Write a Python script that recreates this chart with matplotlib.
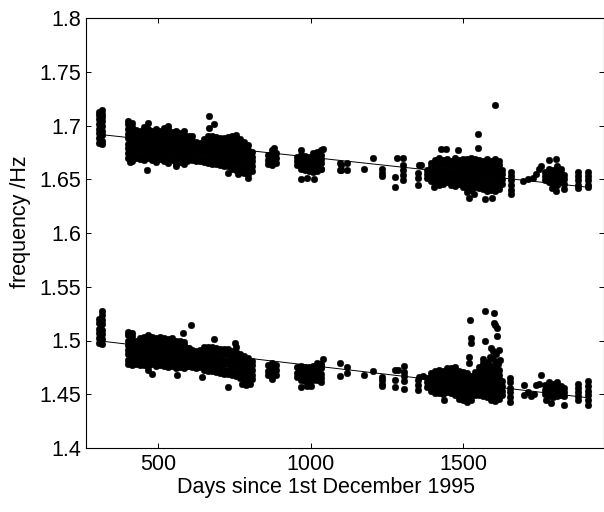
import matplotlib
matplotlib.use("Agg")
import matplotlib.pyplot as plt
from matplotlib.ticker import FixedLocator, FixedFormatter

# ---------------- data ----------------
# Upper frequency band: (day, [frequencies measured around that day])
upper_columns = [
    (305, [1.684, 1.688, 1.693, 1.697, 1.701, 1.706, 1.710, 1.713]),
    (318, [1.683, 1.686, 1.691, 1.695, 1.700, 1.704, 1.708, 1.711, 1.714]),
    (403, [1.670, 1.674, 1.679, 1.683, 1.688, 1.692, 1.697, 1.701, 1.704]),
    (416, [1.667, 1.672, 1.676, 1.681, 1.685, 1.690, 1.694, 1.699, 1.702]),
    (429, [1.670, 1.674, 1.678, 1.683, 1.687, 1.692, 1.696]),
    (442, [1.669, 1.673, 1.678, 1.682, 1.687, 1.691, 1.695]),
    (455, [1.668, 1.672, 1.677, 1.681, 1.686, 1.690, 1.695, 1.699]),
    (468, [1.670, 1.675, 1.679, 1.684, 1.688, 1.693, 1.697, 1.702]),
    (481, [1.668, 1.673, 1.677, 1.682, 1.686, 1.691, 1.695]),
    (494, [1.666, 1.671, 1.675, 1.680, 1.684, 1.689, 1.693, 1.697]),
    (507, [1.669, 1.673, 1.678, 1.682, 1.687, 1.691, 1.695]),
    (520, [1.667, 1.671, 1.676, 1.680, 1.685, 1.689, 1.694, 1.698]),
    (533, [1.665, 1.670, 1.674, 1.679, 1.683, 1.688, 1.692, 1.697, 1.700]),
    (546, [1.668, 1.672, 1.677, 1.681, 1.686, 1.690, 1.694]),
    (559, [1.664, 1.669, 1.673, 1.678, 1.682, 1.687, 1.691, 1.695]),
    (572, [1.666, 1.671, 1.675, 1.680, 1.684, 1.689, 1.693]),
    (585, [1.664, 1.668, 1.673, 1.677, 1.682, 1.686, 1.691, 1.695]),
    (596, [1.667, 1.671, 1.676, 1.680, 1.685, 1.689]),
    (600, [1.669, 1.673, 1.678, 1.682, 1.686, 1.690]),
    (613, [1.668, 1.672, 1.677, 1.681, 1.686, 1.690]),
    (626, [1.667, 1.671, 1.676, 1.680, 1.685]),
    (639, [1.667, 1.672, 1.676, 1.680, 1.684]),
    (652, [1.666, 1.670, 1.675, 1.679, 1.683, 1.687]),
    (665, [1.665, 1.669, 1.674, 1.678, 1.683, 1.687, 1.690]),
    (678, [1.664, 1.668, 1.673, 1.677, 1.682, 1.686, 1.690]),
    (691, [1.664, 1.668, 1.672, 1.677, 1.681, 1.686, 1.689]),
    (704, [1.663, 1.667, 1.672, 1.676, 1.681, 1.685, 1.688]),
    (717, [1.662, 1.666, 1.671, 1.675, 1.680, 1.684, 1.688]),
    (730, [1.662, 1.666, 1.671, 1.675, 1.679, 1.684, 1.689]),
    (743, [1.660, 1.665, 1.669, 1.674, 1.678, 1.683, 1.687, 1.690]),
    (756, [1.659, 1.664, 1.668, 1.673, 1.677, 1.682, 1.686, 1.691]),
    (769, [1.657, 1.662, 1.666, 1.671, 1.675, 1.680, 1.684, 1.687]),
    (782, [1.656, 1.660, 1.665, 1.669, 1.674, 1.678, 1.682, 1.685]),
    (795, [1.655, 1.659, 1.664, 1.668, 1.673, 1.677, 1.682]),
    (808, [1.658, 1.662, 1.667, 1.671, 1.675]),
    (862, [1.664, 1.668, 1.673]),
    (875, [1.663, 1.667, 1.672, 1.677]),
    (888, [1.665, 1.670, 1.674]),
    (955, [1.663, 1.667, 1.671]),
    (968, [1.660, 1.664, 1.669, 1.673, 1.677]),
    (981, [1.659, 1.663, 1.668, 1.672]),
    (994, [1.658, 1.662, 1.666, 1.671]),
    (1007, [1.657, 1.661, 1.666, 1.670, 1.674]),
    (1020, [1.658, 1.662, 1.667, 1.671, 1.675]),
    (1033, [1.660, 1.665, 1.669, 1.673, 1.677]),
    (1382, [1.651, 1.655, 1.659]),
    (1395, [1.648, 1.652, 1.657, 1.661, 1.665]),
    (1408, [1.646, 1.650, 1.655, 1.659, 1.664, 1.668]),
    (1421, [1.645, 1.649, 1.654, 1.658, 1.663, 1.667, 1.670]),
    (1434, [1.646, 1.650, 1.655, 1.659, 1.664, 1.668]),
    (1447, [1.647, 1.651, 1.656, 1.660, 1.665, 1.669]),
    (1460, [1.645, 1.649, 1.654, 1.658, 1.663, 1.667]),
    (1473, [1.644, 1.648, 1.653, 1.657, 1.662, 1.666, 1.670]),
    (1486, [1.646, 1.650, 1.655, 1.659, 1.664, 1.668]),
    (1499, [1.643, 1.647, 1.652, 1.656, 1.661, 1.665, 1.669]),
    (1512, [1.638, 1.642, 1.647, 1.651, 1.656, 1.660, 1.665, 1.669]),
    (1525, [1.640, 1.644, 1.649, 1.653, 1.658, 1.662, 1.667, 1.670]),
    (1538, [1.643, 1.647, 1.652, 1.656, 1.661, 1.665, 1.669]),
    (1551, [1.642, 1.646, 1.651, 1.655, 1.660, 1.664, 1.668]),
    (1564, [1.641, 1.645, 1.650, 1.654, 1.659, 1.663, 1.667]),
    (1577, [1.639, 1.643, 1.648, 1.652, 1.657, 1.661, 1.666, 1.669]),
    (1590, [1.640, 1.644, 1.649, 1.653, 1.658, 1.662, 1.667]),
    (1603, [1.639, 1.643, 1.648, 1.652, 1.657, 1.661, 1.665, 1.669]),
    (1616, [1.641, 1.645, 1.650, 1.654, 1.659, 1.663, 1.667]),
    (1626, [1.646, 1.650, 1.655, 1.659]),
    (1657, [1.636, 1.640, 1.645, 1.649, 1.653, 1.657]),
    (1768, [1.649, 1.653, 1.657]),
    (1781, [1.647, 1.651, 1.656, 1.660]),
    (1794, [1.646, 1.650, 1.655, 1.659]),
    (1807, [1.645, 1.649, 1.654, 1.658, 1.662]),
    (1820, [1.647, 1.651, 1.656, 1.660]),
    (1829, [1.646, 1.650, 1.654]),
    (1877, [1.642, 1.645, 1.649, 1.653, 1.657]),
    (1908, [1.643, 1.645, 1.649, 1.653, 1.657]),
]
upper_scatter_days = [409, 464, 560, 667, 683, 667, 729, 762, 794, 880, 970, 988, 1012,
                      1040, 1035, 1100, 1100, 1098, 1098, 1118, 1118, 1176, 1206,
                      1235, 1235, 1235, 1278, 1278, 1284, 1304, 1304, 1304, 1304, 1304,
                      1356, 1362, 1351, 1351, 1351, 1405, 1427, 1444, 1484, 1549, 1549,
                      1604, 1520, 1534, 1572, 1594, 1695, 1711, 1728, 1739, 1750, 1755,
                      1781, 1803, 1790, 1803, 1829]
upper_scatter_freq = [1.666, 1.659, 1.662, 1.709, 1.701, 1.698, 1.656, 1.655, 1.651, 1.679,
                      1.650, 1.651, 1.650, 1.678, 1.660, 1.663, 1.659, 1.665, 1.659,
                      1.665, 1.659, 1.660, 1.670, 1.660, 1.656, 1.653, 1.652, 1.643,
                      1.670, 1.670, 1.663, 1.659, 1.654, 1.649, 1.663, 1.663, 1.656,
                      1.651, 1.645, 1.643, 1.678, 1.678, 1.677, 1.692, 1.679, 1.719,
                      1.633, 1.636, 1.632, 1.633, 1.648, 1.650, 1.651, 1.655, 1.660,
                      1.662, 1.668, 1.669, 1.642, 1.639, 1.641]

# Lower frequency band
lower_columns = [
    (305, [1.498, 1.502, 1.507, 1.511, 1.516, 1.520]),
    (318, [1.497, 1.501, 1.506, 1.510, 1.515, 1.519, 1.524, 1.527]),
    (403, [1.478, 1.482, 1.487, 1.491, 1.496, 1.500, 1.505, 1.508]),
    (416, [1.477, 1.481, 1.486, 1.490, 1.495, 1.499, 1.504, 1.507]),
    (429, [1.478, 1.482, 1.487, 1.491, 1.496, 1.500]),
    (442, [1.477, 1.481, 1.486, 1.490, 1.495, 1.499, 1.502]),
    (455, [1.477, 1.481, 1.486, 1.490, 1.495, 1.499, 1.503]),
    (468, [1.476, 1.480, 1.485, 1.489, 1.494, 1.498, 1.503, 1.505]),
    (481, [1.478, 1.482, 1.487, 1.491, 1.495, 1.500, 1.503]),
    (494, [1.476, 1.480, 1.485, 1.489, 1.494, 1.498, 1.502]),
    (507, [1.477, 1.481, 1.486, 1.490, 1.494, 1.499, 1.503]),
    (520, [1.476, 1.480, 1.485, 1.489, 1.493, 1.498, 1.502]),
    (533, [1.475, 1.479, 1.484, 1.488, 1.493, 1.497, 1.501]),
    (546, [1.476, 1.480, 1.485, 1.489, 1.494, 1.498, 1.502]),
    (559, [1.474, 1.478, 1.483, 1.487, 1.492, 1.496, 1.500]),
    (572, [1.475, 1.479, 1.484, 1.488, 1.493, 1.497, 1.500]),
    (585, [1.474, 1.478, 1.483, 1.487, 1.491, 1.496, 1.499]),
    (596, [1.476, 1.480, 1.485, 1.489, 1.493]),
    (600, [1.476, 1.480, 1.485, 1.489, 1.493]),
    (613, [1.475, 1.479, 1.484, 1.488, 1.491]),
    (626, [1.474, 1.478, 1.483, 1.487, 1.490]),
    (639, [1.475, 1.479, 1.484, 1.488, 1.491]),
    (652, [1.473, 1.477, 1.482, 1.486, 1.491, 1.494]),
    (665, [1.472, 1.476, 1.481, 1.485, 1.490, 1.494]),
    (678, [1.472, 1.476, 1.481, 1.485, 1.489, 1.494]),
    (691, [1.471, 1.475, 1.480, 1.484, 1.489, 1.493]),
    (704, [1.470, 1.474, 1.479, 1.483, 1.488, 1.492]),
    (717, [1.469, 1.473, 1.478, 1.482, 1.487, 1.492]),
    (730, [1.469, 1.473, 1.478, 1.482, 1.487, 1.492]),
    (743, [1.468, 1.472, 1.477, 1.481, 1.486, 1.490]),
    (756, [1.467, 1.471, 1.476, 1.480, 1.485, 1.489, 1.494]),
    (769, [1.465, 1.469, 1.474, 1.478, 1.483, 1.487]),
    (782, [1.464, 1.468, 1.473, 1.477, 1.482, 1.486]),
    (795, [1.462, 1.466, 1.471, 1.475, 1.480, 1.484]),
    (808, [1.464, 1.468, 1.473, 1.477, 1.481]),
    (862, [1.468, 1.472, 1.477]),
    (875, [1.466, 1.470, 1.475, 1.479]),
    (888, [1.468, 1.473, 1.477]),
    (955, [1.466, 1.470, 1.475]),
    (968, [1.463, 1.467, 1.472, 1.476]),
    (981, [1.462, 1.466, 1.471, 1.475]),
    (994, [1.462, 1.466, 1.471, 1.475]),
    (1007, [1.463, 1.467, 1.471, 1.476]),
    (1020, [1.463, 1.467, 1.472, 1.476, 1.479]),
    (1033, [1.465, 1.469, 1.474, 1.478]),
    (1382, [1.457, 1.461, 1.465]),
    (1395, [1.453, 1.457, 1.462, 1.466, 1.470]),
    (1408, [1.451, 1.455, 1.460, 1.464, 1.469, 1.472]),
    (1421, [1.451, 1.455, 1.460, 1.464, 1.469, 1.473]),
    (1434, [1.450, 1.454, 1.459, 1.463, 1.468, 1.472]),
    (1447, [1.452, 1.456, 1.461, 1.465, 1.470, 1.474]),
    (1460, [1.451, 1.455, 1.460, 1.464, 1.469, 1.474]),
    (1473, [1.449, 1.453, 1.458, 1.462, 1.467, 1.471, 1.475]),
    (1486, [1.446, 1.450, 1.455, 1.459, 1.464, 1.468, 1.472]),
    (1499, [1.445, 1.449, 1.454, 1.458, 1.463, 1.467, 1.471]),
    (1512, [1.443, 1.447, 1.452, 1.456, 1.461, 1.465, 1.470]),
    (1525, [1.445, 1.449, 1.454, 1.458, 1.463, 1.467]),
    (1538, [1.449, 1.453, 1.458, 1.462, 1.467, 1.471]),
    (1551, [1.449, 1.453, 1.458, 1.462, 1.467, 1.471, 1.475]),
    (1564, [1.448, 1.452, 1.457, 1.461, 1.466, 1.470, 1.474, 1.479]),
    (1577, [1.447, 1.451, 1.456, 1.460, 1.465, 1.469, 1.474]),
    (1590, [1.445, 1.449, 1.454, 1.458, 1.463, 1.467, 1.472, 1.476]),
    (1603, [1.444, 1.448, 1.453, 1.457, 1.462, 1.466, 1.471, 1.475]),
    (1616, [1.446, 1.450, 1.455, 1.459, 1.464, 1.468, 1.473]),
    (1626, [1.449, 1.453, 1.458, 1.462]),
    (1655, [1.443, 1.447, 1.452, 1.456, 1.461, 1.465]),
    (1768, [1.450, 1.454, 1.459]),
    (1781, [1.448, 1.452, 1.457, 1.461]),
    (1794, [1.447, 1.451, 1.456, 1.460]),
    (1807, [1.448, 1.452, 1.457, 1.461]),
    (1820, [1.449, 1.453, 1.458]),
    (1829, [1.448, 1.452, 1.456]),
    (1877, [1.445, 1.448, 1.452, 1.456, 1.460]),
    (1908, [1.440, 1.445, 1.449, 1.453, 1.458, 1.462]),
]
lower_scatter_days = [467, 480, 563, 581, 609, 683, 752, 729, 645, 776, 790, 800, 875,
                      968, 988, 1003, 1040, 1035, 1035, 1098, 1098, 1118, 1118, 1176,
                      1206, 1235, 1235, 1235, 1235, 1278, 1278, 1278, 1288, 1307, 1307,
                      1307, 1307, 1307, 1351, 1351, 1351, 1356, 1370, 1438,
                      1524, 1526, 1526, 1520, 1520, 1573, 1602, 1601, 1605, 1610, 1610,
                      1573, 1591, 1598, 1607, 1619, 1588, 1594, 1566, 1568, 1580, 1605,
                      1615, 1620, 1700, 1700, 1711, 1722, 1733, 1739, 1750, 1755, 1787,
                      1829, 1772]
lower_scatter_freq = [1.473, 1.469, 1.468, 1.507, 1.514, 1.501, 1.498, 1.457, 1.466,
                      1.460, 1.459, 1.460, 1.464, 1.457, 1.458, 1.458, 1.483, 1.476,
                      1.461, 1.479, 1.467, 1.475, 1.470, 1.468, 1.472, 1.466, 1.463,
                      1.460, 1.458, 1.473, 1.463, 1.457, 1.473, 1.476, 1.471, 1.467,
                      1.462, 1.455, 1.463, 1.459, 1.454, 1.466, 1.467, 1.445,
                      1.519, 1.502, 1.498, 1.485, 1.479, 1.527, 1.526, 1.516, 1.514,
                      1.512, 1.504, 1.500, 1.493, 1.490, 1.487, 1.491, 1.485, 1.484,
                      1.483, 1.479, 1.480, 1.481, 1.478, 1.482, 1.459, 1.449, 1.452,
                      1.448, 1.450, 1.459, 1.460, 1.468, 1.442, 1.440, 1.445]

# Linear fit lines
fit_days = [315, 1905]
upper_fit = [1.6915, 1.6427]
lower_fit = [1.4994, 1.4469]

x_ticks = [500, 1000, 1500]
x_tick_labels = ["500", "1000", "1500"]
y_ticks = [1.4, 1.45, 1.5, 1.55, 1.6, 1.65, 1.7, 1.75, 1.8]
y_tick_labels = ["1.4", "1.45", "1.5", "1.55", "1.6", "1.65", "1.7", "1.75", "1.8"]


def flatten(columns, extra_days, extra_freq):
    days, freqs = [], []
    for d, fs in columns:
        for f in fs:
            days.append(d)
            freqs.append(f)
    return days + list(extra_days), freqs + list(extra_freq)


# ---------------- drawing ----------------
plt.rcParams["font.family"] = ["Liberation Sans", "DejaVu Sans"]

W, H = 604, 512
fig = plt.figure(figsize=(W / 100, H / 100), dpi=100)
ax = fig.add_axes([86 / W, 1 - 448 / H, (603.5 - 86) / W, (448 - 18) / H])

ax.plot(fit_days, upper_fit, color="black", lw=0.7, zorder=1)
ax.plot(fit_days, lower_fit, color="black", lw=0.7, zorder=1)

ud, uf = flatten(upper_columns, upper_scatter_days, upper_scatter_freq)
ld, lf = flatten(lower_columns, lower_scatter_days, lower_scatter_freq)
mk = dict(linestyle="none", marker="o", ms=4.8, mfc="black", mec="black", mew=0.3, zorder=2)
ax.plot(ud, uf, **mk)
ax.plot(ld, lf, **mk)

ax.set_xlim(264, 1960)
ax.set_ylim(1.4, 1.8)
ax.xaxis.set_major_locator(FixedLocator(x_ticks))
ax.xaxis.set_major_formatter(FixedFormatter(x_tick_labels))
ax.yaxis.set_major_locator(FixedLocator(y_ticks))
ax.yaxis.set_major_formatter(FixedFormatter(y_tick_labels))

ax.tick_params(direction="in", length=3.5, width=0.7, labelsize=15.5,
               top=True, right=True, colors="black")
ax.tick_params(axis="x", pad=4)
ax.tick_params(axis="y", pad=3.5)
for s in ax.spines.values():
    s.set_linewidth(0.8)
    s.set_color("black")

ax.set_xlabel("Days since 1st December 1995", fontsize=15.5)
ax.set_ylabel("frequency /Hz", fontsize=15.5)
ax.xaxis.set_label_coords((326 - 86) / (603.5 - 86), -(477.5 - 448) / 430)
ax.yaxis.set_label_coords(-(86 - 31.5) / (603.5 - 86), (448 - 222) / 430)

fig.savefig("out.png", dpi=100)
